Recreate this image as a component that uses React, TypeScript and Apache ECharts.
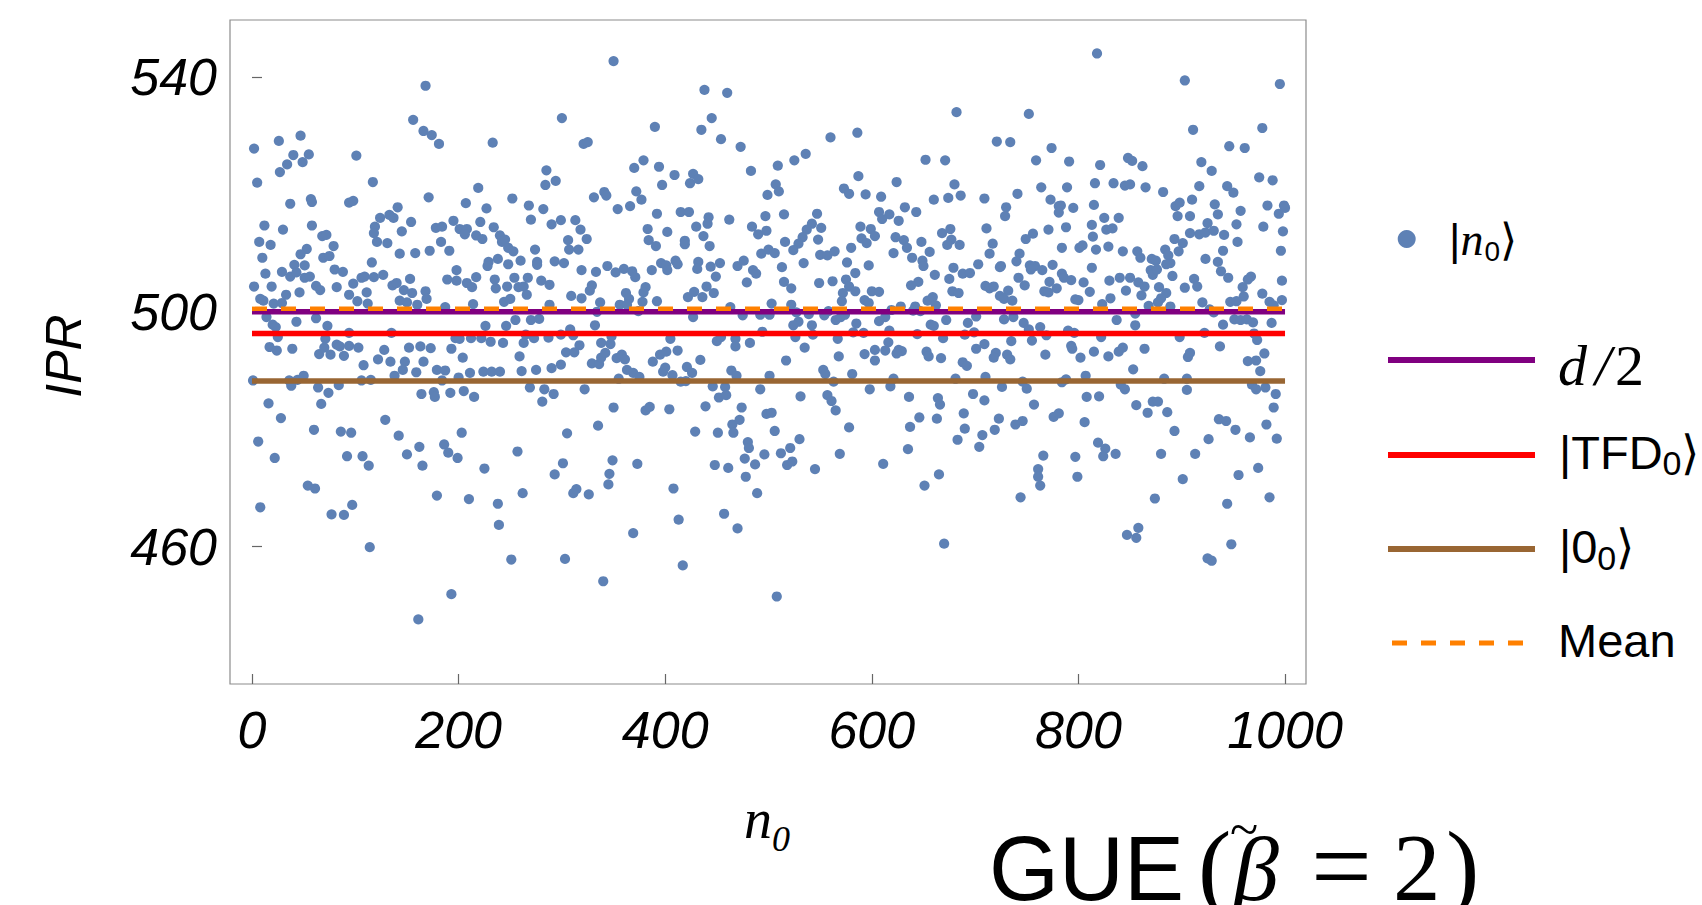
import React, { useEffect, useRef } from "react";
import * as echarts from "echarts";

// |n0> IPR values, grouped by n0 range
const seg0: [number, number][] = [
  [2,527.8],[26,529.1],[47,530.0],[40,526.7],[34,525.1],[27,523.8],[49,525.5],[55,526.8],[5,522.0],[37,518.4],[57,519.2],[58,518.7],[12,514.7],[30,514.0],[58,514.7],[7,511.9],[18,511.4],[68,512.9],[72,513.1],[10,509.2],[53,510.7],[47,509.8],[69,509.2],[75,509.5],[79,511.2],[13,506.5],[29,506.8],[41,508.0],[51,507.9],[37,506.0],[43,506.7],[51,505.8],[56,506.0],[80,507.2],[88,506.8],[2,504.3],[19,504.3],[33,502.9],[46,503.3],[62,504.4],[66,503.7],[82,504.2],[8,502.2],[11,501.9],[21,501.4],[29,501.5],[14,499.1],[20,497.8],[23,497.4],[43,498.3],[62,498.9],[73,497.6],[25,495.7],[17,494.0],[24,493.4],[39,493.7],[71,495.4],[65,492.8],[70,493.9],[76,492.7],[82,494.4],[89,492.5],[85,494.1],[1,488.3],[36,488.3],[38,487.4],[44,488.4],[50,489.1],[64,487.1],[74,486.2],[84,487.5],[16,484.4],[28,481.9],[67,484.3],[6,477.9],[60,479.9],[86,479.6],[22,475.1],[54,470.4],[61,469.9],[8,466.7],[77,465.5],[89,465.4]
];
const seg1: [number, number][] = [
  [168,538.5],[156,532.7],[166,530.8],[174,530.1],[181,528.6],[101,526.6],[117,522.1],[171,519.5],[94,518.6],[98,518.9],[141,517.8],[124,516.0],[133,516.5],[137,516.0],[119,514.5],[118,513.4],[154,515.3],[145,513.7],[121,511.9],[131,511.7],[178,514.3],[184,514.5],[183,511.9],[143,509.9],[158,510.0],[172,510.4],[191,510.4],[116,508.4],[106,505.8],[109,506.0],[98,504.8],[118,505.9],[127,506.3],[136,504.5],[140,504.9],[153,505.6],[147,503.7],[155,503.2],[168,503.5],[189,505.5],[111,503.3],[102,501.8],[112,501.4],[94,502.9],[143,501.9],[150,501.6],[160,501.2],[169,502.2],[187,500.8],[94,496.4],[135,496.4],[94,494.2],[103,493.9],[128,493.5],[152,493.9],[163,494.1],[173,493.8],[193,493.7],[122,491.9],[108,490.9],[134,491.5],[148,491.5],[166,491.5],[146,490.1],[138,489.1],[159,489.7],[179,490.1],[187,490.0],[106,488.3],[115,488.4],[184,488.3],[164,486.0],[176,486.3],[177,485.5],[192,486.2],[129,481.6],[96,479.4],[142,478.9],[162,477.0],[150,475.7],[186,477.4],[190,476.0],[92,475.4],[107,475.4],[113,473.8],[165,473.8],[179,468.7],[97,467.1],[114,459.9],[193,451.9],[161,447.6]
];
const seg2: [number, number][] = [
  [233,528.8],[285,524.1],[284,521.6],[294,522.3],[219,521.1],[207,518.5],[252,519.3],[268,518.1],[282,517.5],[227,517.6],[270,515.7],[221,515.3],[234,514.4],[290,514.9],[195,515.5],[201,514.1],[208,514.1],[206,513.2],[217,513.0],[223,512.4],[240,513.0],[242,511.9],[245,512.3],[248,510.9],[253,510.3],[274,510.6],[238,509.0],[229,508.5],[228,507.8],[248,508.1],[260,508.7],[276,508.5],[276,508.0],[293,508.6],[198,507.1],[198,505.3],[208,504.9],[213,504.2],[217,505.9],[235,505.5],[236,504.0],[247,504.3],[254,505.8],[258,504.2],[263,504.3],[267,505.8],[266,502.9],[280,505.3],[288,504.6],[244,501.7],[250,502.2],[214,501.3],[288,501.2],[226,497.6],[246,497.6],[255,498.6],[270,498.6],[278,498.8],[197,495.5],[201,495.4],[212,495.5],[222,495.5],[231,494.9],[243,494.7],[263,494.7],[273,495.5],[287,495.6],[265,496.1],[204,492.2],[259,492.4],[211,489.6],[224,489.8],[232,489.8],[240,489.8],[261,489.9],[275,490.1],[290,490.4],[200,488.8],[205,486.5],[215,485.5],[269,487.1],[283,486.8],[292,486.0],[281,484.7],[203,479.4],[199,475.1],[225,473.3],[257,476.2],[293,472.3],[210,468.1],[238,467.3],[262,469.1],[239,463.7],[251,457.8]
];
const seg3: [number, number][] = [
  [350,542.7],[300,533.0],[390,531.5],[321,528.6],[325,528.9],[379,525.8],[370,524.5],[394,524.7],[397,521.6],[331,519.5],[341,520.4],[343,519.8],[354,517.5],[366,518.0],[372,520.5],[377,519.1],[392,516.7],[299,515.6],[313,515.6],[318,514.0],[383,514.1],[306,512.2],[324,512.4],[384,512.2],[391,511.2],[307,510.6],[316,510.6],[302,508.3],[319,507.1],[333,506.8],[344,507.8],[352,506.7],[360,507.3],[368,506.9],[371,505.9],[387,507.1],[396,508.3],[309,502.7],[329,504.5],[327,503.6],[319,502.3],[337,501.6],[362,503.2],[365,502.2],[381,504.2],[379,503.3],[378,501.7],[392,501.8],[356,501.2],[363,501.2],[374,500.1],[334,500.0],[332,497.7],[308,497.0],[311,496.0],[317,494.3],[299,496.1],[304,493.1],[312,493.1],[299,491.0],[329,491.2],[336,491.1],[338,492.2],[342,493.0],[338,494.7],[347,494.5],[348,495.8],[353,492.1],[358,492.7],[361,491.9],[363,490.1],[369,489.6],[375,488.9],[355,488.6],[388,491.5],[395,492.7],[398,489.8],[322,486.8],[350,483.7],[381,483.2],[385,483.8],[305,479.3],[335,480.6],[301,474.2],[349,474.7],[373,474.1],[346,472.4],[345,470.6],[311,469.1],[314,469.8],[326,468.9],[369,462.3],[303,457.9],[340,454.1]
];
const seg4: [number, number][] = [
  [438,537.8],[460,537.3],[445,533.0],[435,531.0],[454,529.4],[473,528.1],[483,524.0],[409,523.3],[427,523.5],[424,521.9],[432,522.6],[499,519.9],[415,517.0],[423,517.0],[442,516.1],[441,515.0],[430,514.5],[462,515.7],[402,513.6],[437,512.9],[419,512.1],[419,511.5],[443,511.2],[484,514.5],[490,513.2],[497,516.3],[498,513.8],[493,509.9],[500,510.6],[410,508.7],[401,507.9],[402,507.1],[412,508.1],[432,508.5],[431,507.3],[444,507.7],[453,508.3],[449,506.0],[470,507.8],[476,508.7],[485,507.1],[488,506.5],[479,505.0],[440,504.3],[447,503.2],[422,502.5],[428,503.4],[436,502.5],[463,500.8],[427,499.1],[475,499.4],[492,499.5],[501,499.5],[494,496.6],[450,495.0],[454,495.7],[468,495.4],[468,494.1],[482,494.7],[405,495.4],[412,493.4],[401,493.2],[434,491.8],[421,490.6],[426,489.6],[400,490.5],[407,489.2],[415,488.1],[420,488.2],[464,490.0],[469,489.1],[446,487.3],[452,485.4],[458,487.2],[459,485.8],[492,486.8],[501,489.1],[404,483.4],[439,483.9],[474,483.7],[429,479.6],[451,479.4],[465,480.8],[472,481.6],[466,479.4],[480,477.8],[481,476.8],[498,482.6],[496,475.7],[477,475.0],[487,474.0],[448,473.9],[461,473.4],[478,471.9],[489,469.1],[408,469.9],[413,464.6],[457,465.6],[470,463.1],[417,456.8]
];
const seg5: [number, number][] = [
  [586,530.5],[560,529.7],[536,526.9],[525,525.8],[509,524.9],[587,523.1],[507,521.7],[510,520.5],[573,521.0],[578,520.1],[594,520.0],[515,516.6],[547,516.7],[542,515.0],[551,514.3],[537,514.0],[533,512.7],[548,512.3],[529,511.6],[524,510.5],[589,514.5],[599,514.1],[603,512.9],[590,512.5],[595,511.7],[516,511.9],[506,510.0],[550,509.7],[557,509.6],[564,510.3],[580,510.9],[534,508.3],[576,508.4],[597,507.9],[513,507.6],[584,506.6],[515,505.1],[522,504.0],[549,504.9],[562,505.2],[575,505.5],[578,504.3],[584,503.5],[572,503.2],[571,501.8],[593,502.0],[597,501.5],[600,503.5],[522,501.2],[503,501.4],[558,500.1],[539,499.6],[527,499.9],[529,498.3],[542,497.7],[554,499.4],[565,498.6],[570,499.1],[574,499.5],[585,498.0],[524,497.7],[526,495.7],[543,496.1],[567,495.4],[582,496.5],[592,496.4],[535,493.9],[603,493.5],[517,491.7],[568,492.4],[593,492.8],[603,491.7],[553,490.1],[555,489.4],[563,488.1],[581,489.4],[598,486.8],[531,485.6],[557,485.8],[561,484.8],[565,483.2],[503,482.8],[506,479.7],[578,480.3],[530,478.3],[512,475.9],[521,476.8],[569,475.8],[518,473.9],[523,474.5],[545,473.2],[508,451.5]
];
const seg6: [number, number][] = [
  [682,534.0],[652,525.9],[671,525.8],[624,522.1],[680,521.7],[609,519.6],[660,519.1],[674,519.4],[686,519.8],[632,517.8],[643,517.0],[607,517.0],[617,516.6],[610,515.8],[626,515.5],[623,512.7],[631,512.2],[634,510.9],[648,511.9],[668,513.4],[676,514.1],[677,512.3],[673,511.4],[685,511.4],[621,510.0],[639,509.2],[649,508.7],[656,510.2],[650,507.8],[679,507.5],[688,506.5],[695,506.6],[703,508.1],[661,506.3],[675,505.6],[645,505.1],[638,504.5],[607,503.4],[678,503.5],[684,503.2],[654,501.9],[659,502.5],[662,501.1],[642,500.9],[613,499.1],[619,500.3],[628,500.9],[640,500.2],[647,500.1],[657,497.8],[660,497.6],[672,498.6],[693,498.1],[701,499.2],[607,498.4],[617,496.8],[644,496.2],[669,495.5],[690,496.1],[699,496.5],[616,494.8],[613,493.4],[626,493.5],[629,493.3],[624,492.9],[653,493.2],[655,492.4],[667,492.1],[688,491.4],[692,490.8],[701,493.7],[621,488.6],[618,487.3],[681,488.6],[698,486.0],[636,485.5],[664,485.3],[666,484.2],[646,482.0],[663,481.8],[689,482.7],[637,480.4],[690,480.1],[683,478.2],[635,476.6],[704,477.0],[611,474.1],[665,472.3],[651,470.4],[670,460.5]
];
const seg7: [number, number][] = [
  [752,533.7],[721,529.0],[734,528.9],[774,527.9],[759,525.8],[791,525.6],[764,521.2],[789,521.2],[741,520.1],[709,519.3],[773,519.1],[781,518.0],[783,518.1],[795,517.7],[781,516.9],[730,517.8],[729,516.3],[711,514.2],[771,514.0],[788,514.4],[749,512.4],[756,513.3],[717,511.6],[784,510.9],[801,510.9],[804,511.3],[714,509.9],[743,509.9],[740,508.6],[725,507.8],[724,507.6],[753,507.9],[758,507.8],[754,507.2],[765,507.1],[775,508.0],[784,506.5],[786,505.8],[793,505.4],[742,505.8],[748,504.5],[710,504.4],[714,504.0],[718,504.3],[732,503.6],[724,502.7],[728,502.2],[736,501.9],[767,503.5],[772,505.1],[779,504.0],[771,503.3],[797,502.1],[800,502.0],[805,505.0],[728,498.7],[737,499.1],[747,498.1],[752,497.0],[763,497.4],[769,496.0],[755,495.1],[735,495.0],[790,496.8],[796,496.4],[709,494.5],[793,494.2],[794,493.7],[768,492.7],[720,493.0],[718,492.2],[731,492.7],[734,491.9],[802,492.2],[710,488.9],[746,488.1],[750,486.9],[726,487.2],[784,488.0],[788,488.5],[807,489.1],[709,484.9],[808,485.5],[757,484.2],[723,481.8],[719,479.9],[739,480.8],[746,481.4],[776,482.1],[781,482.7],[806,481.2],[707,479.0],[766,475.5],[797,475.3],[761,473.2],[761,471.9],[763,470.4],[799,471.9],[744,468.4]
];
const seg8: [number, number][] = [
  [818,544.0],[903,539.4],[911,531.0],[821,525.0],[848,526.2],[852,525.7],[862,524.8],[816,521.9],[834,521.9],[845,521.5],[850,521.7],[865,521.2],[882,520.4],[815,518.2],[894,518.0],[898,518.6],[910,519.1],[896,516.3],[908,516.3],[825,516.0],[839,516.0],[813,514.8],[814,512.8],[827,514.0],[833,514.2],[817,510.6],[829,511.1],[843,510.3],[857,510.3],[860,509.2],[871,509.0],[875,508.7],[884,510.6],[893,512.4],[901,511.7],[897,510.3],[887,509.6],[889,508.3],[885,508.1],[908,513.4],[813,507.5],[870,507.1],[872,506.3],[876,507.2],[840,505.8],[850,505.8],[830,505.3],[891,506.1],[912,505.6],[858,505.0],[864,504.3],[846,503.6],[861,502.8],[878,504.2],[885,503.2],[880,502.3],[877,501.6],[903,504.1],[823,501.3],[831,502.3],[811,503.4],[837,498.6],[868,501.0],[855,499.7],[889,500.9],[855,497.7],[822,495.7],[898,495.7],[815,493.2],[829,492.4],[839,493.2],[843,493.9],[864,493.7],[906,492.3],[908,493.0],[853,490.2],[883,488.6],[841,487.6],[845,486.8],[905,488.6],[905,486.7],[820,485.6],[856,484.1],[867,482.8],[872,484.7],[877,484.7],[886,482.9],[893,479.7],[819,477.7],[826,476.7],[824,475.4],[836,475.8],[880,475.8],[913,475.8],[901,471.5],[874,468.2],[858,463.2],[847,462.0],[856,461.5]
];
const seg9: [number, number][] = [
  [995,538.8],[978,531.3],[946,528.2],[961,527.9],[919,525.5],[929,524.0],[975,522.9],[988,522.4],[917,521.4],[944,521.4],[950,520.3],[932,518.3],[935,516.6],[957,517.2],[983,518.1],[994,516.7],[999,518.1],[1000,517.7],[925,515.1],[953,514.9],[979,514.5],[998,513.7],[917,513.2],[923,513.5],[931,513.8],[941,513.1],[954,511.9],[940,510.4],[996,510.4],[923,509.0],[935,508.5],[938,506.9],[945,505.8],[915,504.3],[967,506.0],[964,505.5],[959,504.2],[960,502.6],[978,503.1],[997,505.3],[920,501.6],[947,501.7],[953,501.8],[985,501.7],[989,501.1],[997,502.0],[927,500.4],[931,499.9],[940,497.8],[951,498.7],[957,498.6],[963,498.7],[969,498.2],[987,498.1],[922,496.4],[970,496.3],[973,495.2],[980,492.9],[937,494.1],[964,491.6],[972,491.7],[976,489.9],[968,487.6],[972,486.8],[981,487.1],[991,486.0],[989,483.7],[936,481.7],[943,481.4],[952,479.9],[982,480.8],[992,478.4],[926,478.3],[966,478.6],[955,472.2],[974,473.4],[944,467.3],[985,468.4],[948,460.4],[925,458.0],[929,457.6]
];

// reference levels
const halfDim = 500; // d/2
const tfdLevel = 496.3; // |TFD0>
const zeroLevel = 488.2; // |0_0>
const meanLevel = 500.5; // Mean
const levelSpan = [0, 1000];

const xTicks = [0, 200, 400, 600, 800, 1000];
const yTicks = [460, 500, 540];

const SANS = "'Liberation Sans', Arial, sans-serif";
const SERIF = "'Liberation Serif', 'Times New Roman', serif";

const POINT_COLOR = "#5E81B5";
const PURPLE = "#800080";
const RED = "#FF0000";
const BROWN = "#996633";
const ORANGE = "#FF8000";

export default function App() {
  const ref = useRef<HTMLDivElement>(null);

  useEffect(() => {
    if (!ref.current) return;
    const chart = echarts.init(ref.current, null, { renderer: "svg" });
    const points = [
      ...seg0, ...seg1, ...seg2, ...seg3, ...seg4,
      ...seg5, ...seg6, ...seg7, ...seg8, ...seg9,
    ];
    const level = (v: number) => levelSpan.map((x) => [x, v]);
    const lineSeries = (name: string, v: number, color: string, dashed: boolean, z: number) => ({
      type: "line",
      name,
      data: level(v),
      symbol: "none",
      silent: true,
      z,
      lineStyle: {
        color,
        width: dashed ? 4.5 : 5.5,
        type: dashed ? [15, 14] : "solid",
        cap: "butt",
      },
    });

    const legendLine = (y: number, color: string, dashed: boolean, x1: number, x2: number) => ({
      type: "line",
      shape: { x1, y1: y, x2, y2: y },
      style: {
        stroke: color,
        lineWidth: dashed ? 5 : 6,
        lineDash: dashed ? [15, 14] : null,
      },
    });

    const serifPiece = (
      text: string, x: number, y: number, fontSize: number, lineHeight: number, italic = false,
    ) => ({
      type: "text",
      x,
      y,
      style: {
        text,
        fontFamily: SERIF,
        fontStyle: italic ? "italic" : "normal",
        fontSize,
        lineHeight,
        fill: "#000",
        align: "left",
        verticalAlign: "middle",
      },
    });

    chart.setOption({
      animation: false,
      backgroundColor: "#ffffff",
      grid: {
        left: 230,
        top: 20,
        width: 1076,
        height: 664,
        show: true,
        borderColor: "#8c8c8c",
        borderWidth: 1.2,
        backgroundColor: "transparent",
      },
      xAxis: {
        type: "value",
        min: -21.3,
        max: 1020.3,
        axisLine: { show: false },
        splitLine: { show: false },
        axisTick: {
          show: true,
          inside: true,
          length: 10,
          customValues: xTicks,
          lineStyle: { color: "#666", width: 1.2 },
        },
        axisLabel: {
          customValues: xTicks,
          formatter: (v: number) => String(v),
          margin: 20,
          fontSize: 52,
          fontStyle: "italic",
          fontFamily: SANS,
          color: "#000",
        },
      },
      yAxis: {
        type: "value",
        min: 436.6,
        max: 549.7,
        axisLine: { show: false },
        splitLine: { show: false },
        axisTick: {
          show: true,
          inside: true,
          length: 10,
          customValues: yTicks,
          lineStyle: { color: "#666", width: 1.2 },
        },
        axisLabel: {
          customValues: yTicks,
          formatter: (v: number) => String(v),
          margin: 13,
          fontSize: 52,
          fontStyle: "italic",
          fontFamily: SANS,
          color: "#000",
        },
      },
      series: [
        {
          type: "scatter",
          name: "|n0>",
          data: points,
          symbol: "circle",
          symbolSize: 10.2,
          itemStyle: { color: POINT_COLOR, opacity: 1 },
          z: 1,
        },
        lineSeries("|0_0>", zeroLevel, BROWN, false, 2),
        lineSeries("|TFD0>", tfdLevel, RED, false, 3),
        lineSeries("d/2", halfDim, PURPLE, false, 4),
        lineSeries("Mean", meanLevel, ORANGE, true, 5),
      ],
      graphic: [
        // y axis name
        {
          type: "text",
          x: 64,
          y: 356,
          rotation: Math.PI / 2,
          style: {
            text: "IPR",
            fontFamily: SANS,
            fontStyle: "italic",
            fontSize: 50,
            fill: "#000",
            align: "center",
            verticalAlign: "middle",
          },
        },
        // x axis name
        {
          type: "text",
          x: 744,
          y: 819,
          style: {
            text: "{n|n}{s|0}",
            align: "left",
            verticalAlign: "middle",
            fill: "#000",
            rich: {
              n: { fontFamily: SERIF, fontStyle: "italic", fontSize: 56, fill: "#000" },
              s: { fontFamily: SERIF, fontStyle: "italic", fontSize: 36, fill: "#000", padding: [40, 0, 0, 0] },
            },
          },
        },
        // title: GUE (β̃ = 2)
        {
          type: "text",
          x: 989,
          y: 869,
          style: {
            text: "GUE",
            fontFamily: SANS,
            fontSize: 90,
            lineHeight: 70,
            fill: "#000",
            align: "left",
            verticalAlign: "middle",
          },
        },
        serifPiece("(", 1198, 866, 100, 70),
        serifPiece("β", 1233, 869, 92, 64, true),
        {
          type: "text",
          x: 1244,
          y: 829,
          style: {
            text: "~",
            fontFamily: SERIF,
            fontSize: 52,
            lineHeight: 14,
            fill: "#000",
            align: "center",
            verticalAlign: "middle",
          },
        },
        serifPiece("=", 1311, 865, 108, 60),
        serifPiece("2", 1393, 868, 95, 66),
        serifPiece(")", 1446, 866, 100, 70),
        // legend: |n0>
        {
          type: "circle",
          shape: { cx: 1406.7, cy: 239, r: 9 },
          style: { fill: POINT_COLOR },
        },
        {
          type: "text",
          x: 1449,
          y: 239,
          style: {
            text: "{s||}{n|n}{sub|0}{s|⟩}",
            align: "left",
            verticalAlign: "middle",
            rich: {
              s: { fontFamily: SANS, fontSize: 44, fill: "#000" },
              n: { fontFamily: SERIF, fontStyle: "italic", fontSize: 46, fill: "#000" },
              sub: { fontFamily: SANS, fontSize: 28, fill: "#000", padding: [25, 0, 0, 1] },
            },
          },
        },
        // legend: d/2
        legendLine(360, PURPLE, false, 1388, 1535),
        {
          type: "text",
          x: 1558,
          y: 365,
          style: {
            text: "{d|d}{sl|/}{t|2}",
            align: "left",
            verticalAlign: "middle",
            rich: {
              d: { fontFamily: SERIF, fontStyle: "italic", fontSize: 58, fill: "#000" },
              sl: { fontFamily: SERIF, fontStyle: "italic", fontSize: 58, fill: "#000", padding: [0, 4, 0, 8] },
              t: { fontFamily: SERIF, fontSize: 58, fill: "#000" },
            },
          },
        },
        // legend: |TFD0>
        legendLine(455, RED, false, 1388, 1535),
        {
          type: "text",
          x: 1559,
          y: 452.5,
          style: {
            text: "{s||TFD}{sub|0}{s|⟩}",
            align: "left",
            verticalAlign: "middle",
            rich: {
              s: { fontFamily: SANS, fontSize: 47, fill: "#000" },
              sub: { fontFamily: SANS, fontSize: 34, fill: "#000", padding: [21, 0, 0, 0] },
            },
          },
        },
        // legend: |0_0>
        legendLine(549, BROWN, false, 1388, 1535),
        {
          type: "text",
          x: 1559,
          y: 546.5,
          style: {
            text: "{s||0}{sub|0}{s|⟩}",
            align: "left",
            verticalAlign: "middle",
            rich: {
              s: { fontFamily: SANS, fontSize: 47, fill: "#000" },
              sub: { fontFamily: SANS, fontSize: 34, fill: "#000", padding: [22, 0, 0, 0] },
            },
          },
        },
        // legend: Mean
        legendLine(643, ORANGE, true, 1392, 1524),
        {
          type: "text",
          x: 1558,
          y: 640,
          style: {
            text: "Mean",
            fontFamily: SANS,
            fontSize: 47,
            fill: "#000",
            align: "left",
            verticalAlign: "middle",
          },
        },
      ],
    });

    return () => chart.dispose();
  }, []);

  return (
    <div
      ref={ref}
      style={{ position: "fixed", left: 0, top: 0, width: 1702, height: 905 }}
    />
  );
}
